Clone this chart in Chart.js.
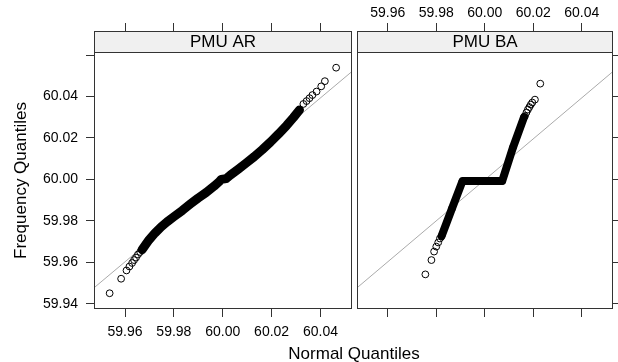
<!DOCTYPE html>
<html>
<head>
<meta charset="utf-8">
<script src="https://cdn.jsdelivr.net/npm/chart.js@4"></script>
<style>
html, body { margin: 0; padding: 0; background: #fff; }
#wrap { position: relative; width: 618px; height: 362px; }
#wrap canvas { position: absolute; left: 0; top: 0; }
</style>
</head>
<body>
<div id="wrap">
  <canvas id="ar" width="618" height="362"></canvas>
  <canvas id="ba" width="618" height="362"></canvas>
</div>
<script>
const panelNames = ["PMU AR", "PMU BA"];
const xTicks = [59.96, 59.98, 60.00, 60.02, 60.04];
const yTicks = [59.94, 59.96, 59.98, 60.00, 60.02, 60.04, 60.06];
const yTickLabels = ["59.94", "59.96", "59.98", "60.00", "60.02", "60.04", ""];
const xRange = [59.9473, 60.0529];
const yRange = [59.9375, 60.0716];

// PMU AR : normal quantiles vs frequency quantiles (sorted)
const arNormal = [59.9537, 59.9584, 59.9606, 59.9618, 59.9629, 59.9637, 59.9645, 59.9653, 59.9662,
  59.9670, 59.9698, 59.9723, 59.9748, 59.9772, 59.9801, 59.9834, 59.9867, 59.9899, 59.9932, 59.9965,
  59.9986, 59.9994, 60.0014, 60.0031, 60.0064, 60.0096, 60.0129, 60.0162, 60.0195, 60.0228, 60.0261,
  60.0289, 60.0314,
  60.0330, 60.0343, 60.0355, 60.0367, 60.0384, 60.0403, 60.0418, 60.0464];
const arFreq = [59.9451, 59.9521, 59.9561, 59.9580, 59.9597, 59.9611, 59.9623, 59.9638, 59.9650,
  59.9662, 59.9708, 59.9742, 59.9771, 59.9795, 59.9821, 59.9850, 59.9881, 59.9910, 59.9937, 59.9968,
  59.9990, 60.0000, 60.0004, 60.0021, 60.0050, 60.0079, 60.0110, 60.0144, 60.0180, 60.0219, 60.0260,
  60.0298, 60.0335,
  60.0364, 60.0378, 60.0392, 60.0407, 60.0424, 60.0449, 60.0474, 60.0539];
const arDense = [9, 33];   // index range where the circles pile up into a solid band

// PMU BA
const baNormal = [59.9755, 59.9780, 59.9791, 59.9800, 59.9808, 59.9815,
  59.9822, 59.9865, 59.9908, 59.9990, 60.0072, 60.0117, 60.0162,
  60.0166, 60.0172, 60.0178, 60.0184, 60.0190, 60.0196, 60.0207, 60.0229];
const baFreq = [59.9542, 59.9611, 59.9652, 59.9676, 59.9696, 59.9715,
  59.9727, 59.9860, 59.9992, 59.9992, 59.9992, 60.0156, 60.0301,
  60.0306, 60.0323, 60.0337, 60.0349, 60.0361, 60.0371, 60.0385, 60.0462];
const baDense = [6, 13];

// reference line (same in both panels)
const refNormal = [59.94, 60.06];
const refFreq = [59.9405, 60.0591];

const FONT = "'Liberation Sans', Arial, Helvetica, sans-serif";
const AXIS = '#333333';

function pts(xs, ys) { return xs.map((x, i) => ({ x: x, y: ys[i] })); }

const latticePanel = {
  id: 'latticePanel',
  afterDatasetsDraw(chart, args, o) {
    const ctx = chart.ctx, a = chart.chartArea;
    const sb = Math.round(a.top) + o.stripHeight;
    ctx.save();
    ctx.fillStyle = '#f0f0f0';
    ctx.fillRect(a.left, a.top, a.right - a.left, o.stripHeight);
    ctx.strokeStyle = AXIS;
    ctx.lineWidth = 1;
    ctx.strokeRect(Math.round(a.left) + 0.5, Math.round(a.top) + 0.5, Math.round(a.right - a.left) - 1, Math.round(a.bottom - a.top) - 1);
    ctx.beginPath();
    ctx.moveTo(a.left, sb + 0.5);
    ctx.lineTo(a.right, sb + 0.5);
    ctx.stroke();
    ctx.fillStyle = '#000';
    ctx.font = '17px ' + FONT;
    ctx.textAlign = 'center';
    ctx.textBaseline = 'alphabetic';
    ctx.fillText(o.text, (a.left + a.right) / 2, a.top + 16);
    if (o.xTitle) {
      ctx.fillText(o.xTitle, 354, 359);
      ctx.translate(25.5, 180.5);
      ctx.rotate(-Math.PI / 2);
      ctx.fillText(o.yTitle, 0, 0);
    }
    ctx.restore();
  }
};

function tickGrid() {
  return { drawOnChartArea: false, drawTicks: true, tickLength: 8, color: AXIS, lineWidth: 1 };
}

function xAxis(pos, showLabels, height) {
  return {
    type: 'linear', position: pos, min: xRange[0], max: xRange[1],
    afterBuildTicks: s => { s.ticks = xTicks.map(v => ({ value: v })); },
    afterFit: s => { s.height = height; },
    ticks: {
      display: showLabels, autoSkip: false, maxRotation: 0, minRotation: 0,
      padding: pos === 'top' ? 1 : 7, color: '#000', font: { family: FONT, size: 14 },
      callback: v => v.toFixed(2)
    },
    grid: tickGrid(),
    border: { display: false }
  };
}

function yAxis(pos, showLabels, width) {
  return {
    type: 'linear', position: pos, min: yRange[0], max: yRange[1],
    afterBuildTicks: s => { s.ticks = yTicks.map(v => ({ value: v })); },
    afterFit: s => { s.width = width; },
    ticks: {
      display: showLabels, autoSkip: false, padding: 8, color: '#000',
      font: { family: FONT, size: 14 },
      callback: (v, i) => yTickLabels[i]
    },
    grid: tickGrid(),
    border: { display: false }
  };
}

function datasets(xs, ys, dense, bandWidth) {
  return [
    { data: pts(refNormal, refFreq), showLine: true, borderColor: '#aaaaaa', borderWidth: 1,
      pointRadius: 0, order: 3 },
    { data: pts(xs.slice(dense[0], dense[1]), ys.slice(dense[0], dense[1])), showLine: true,
      borderColor: '#000', borderWidth: bandWidth, borderCapStyle: 'round', borderJoinStyle: 'round',
      pointRadius: 0, order: 2 },
    { data: pts(xs, ys), showLine: false, pointStyle: 'circle', pointRadius: 3.4,
      borderWidth: 1, borderColor: '#000', backgroundColor: 'rgba(0,0,0,0)', order: 1 }
  ];
}

new Chart(document.getElementById('ar'), {
  type: 'scatter',
  data: { datasets: datasets(arNormal, arFreq, arDense, 9) },
  options: {
    responsive: false, animation: false, events: [],
    layout: { padding: { left: 0, right: 266, top: 0, bottom: 13 } },
    scales: {
      x: xAxis('bottom', true, 40),
      xTop: xAxis('top', false, 31),
      y: yAxis('left', true, 94)
    },
    plugins: {
      legend: { display: false }, tooltip: { enabled: false },
      latticePanel: { text: panelNames[0], stripHeight: 21, xTitle: 'Normal Quantiles', yTitle: 'Frequency Quantiles' }
    }
  },
  plugins: [latticePanel]
});

new Chart(document.getElementById('ba'), {
  type: 'scatter',
  data: { datasets: datasets(baNormal, baFreq, baDense, 8) },
  options: {
    responsive: false, animation: false, events: [],
    layout: { padding: { left: 357, right: 0, top: 0, bottom: 13 } },
    scales: {
      x: xAxis('bottom', false, 40),
      xTop: xAxis('top', true, 31),
      y: yAxis('right', false, 4)
    },
    plugins: {
      legend: { display: false }, tooltip: { enabled: false },
      latticePanel: { text: panelNames[1], stripHeight: 21 }
    }
  },
  plugins: [latticePanel]
});
</script>
</body>
</html>
